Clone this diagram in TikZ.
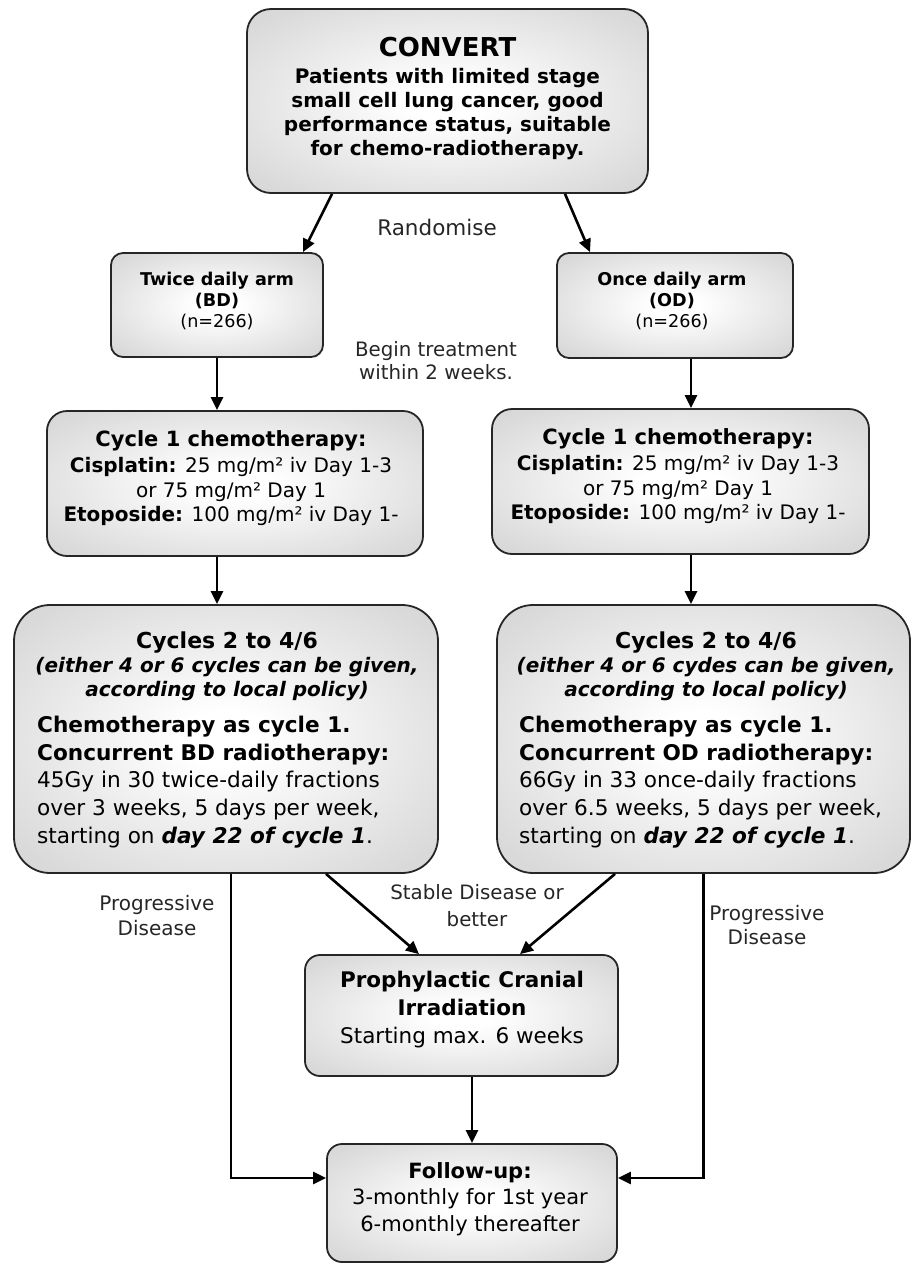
\documentclass[tikz,border=0pt]{standalone}
\usepackage{fontspec}
\setmainfont{DejaVu Sans}
\usetikzlibrary{arrows.meta,calc}
\pgfdeclareradialshading{boxshade}{\pgfpoint{0bp}{0bp}}{color(0bp)=(white); color(5bp)=(white); color(32bp)=(black!15); color(50bp)=(black!18)}
\tikzset{
  box/.style={draw=black!85, line width=1.8pt, shading=boxshade, inner sep=0pt},
  txt/.style={align=center, inner sep=0pt, text=black},
  conn/.style={line width=2.6pt, draw=black, -{Triangle[length=13pt,width=12pt]}},
  lbl/.style={align=center, inner sep=0pt, text=black!85, font=\fontsize{20}{25}\selectfont},
}
\begin{document}
\begin{tikzpicture}[x=1pt,y=-1pt]
\useasboundingbox (0,0) rectangle (912,1266);
% boxes
\node[box, minimum width=401pt, minimum height=184pt, rounded corners=24pt] (top) at (447.5,101) {};
\node[box, minimum width=212pt, minimum height=104pt, rounded corners=12pt] (twice) at (217,305) {};
\node[box, minimum width=236pt, minimum height=105pt, rounded corners=12pt] (once) at (675,305.5) {};
\node[box, minimum width=376pt, minimum height=145pt, rounded corners=20pt] (cyc1L) at (235,483.5) {};
\node[box, minimum width=377pt, minimum height=145pt, rounded corners=20pt] (cyc1R) at (680.5,481.5) {};
\node[box, minimum width=424pt, minimum height=268pt, rounded corners=36pt] (cycL) at (226,739) {};
\node[box, minimum width=413pt, minimum height=268pt, rounded corners=36pt] (cycR) at (703.5,739) {};
\node[box, minimum width=313pt, minimum height=121pt, rounded corners=15pt] (pci) at (461.5,1015.5) {};
\node[box, minimum width=290pt, minimum height=118pt, rounded corners=15pt] (fu) at (472,1203) {};
% texts in boxes
\node[txt, font=\bfseries\fontsize{20}{24}\selectfont] (toptxt) at (447.5,99)
  {{\fontsize{26}{26}\selectfont CONVERT}\\[3pt] Patients with limited stage\\ small cell lung cancer, good\\ performance status, suitable\\ for chemo-radiotherapy.};
\node[txt, font=\fontsize{17.6}{21}\selectfont] (twicetxt) at (217,301)
  {\textbf{Twice daily arm}\\ \textbf{(BD)}\\ (n=266)};
\node[txt, font=\fontsize{17.6}{21}\selectfont] (oncetxt) at (672,301)
  {\textbf{Once daily arm}\\ \textbf{(OD)}\\ (n=266)};
\node[txt, font=\fontsize{20}{24.5}\selectfont] (cyc1Ltxt) at (231,478)
  {{\bfseries\fontsize{21}{24}\selectfont Cycle 1 chemotherapy:}\\[2pt] \textbf{Cisplatin:} 25 mg/m² iv Day 1-3\\ or 75 mg/m² Day 1\\ \textbf{Etoposide:} 100 mg/m² iv Day 1-};
\node[txt, font=\fontsize{20}{24.5}\selectfont] (cyc1Rtxt) at (678,476)
  {{\bfseries\fontsize{21}{24}\selectfont Cycle 1 chemotherapy:}\\[2pt] \textbf{Cisplatin:} 25 mg/m² iv Day 1-3\\ or 75 mg/m² Day 1\\ \textbf{Etoposide:} 100 mg/m² iv Day 1-};
\node[txt, font=\bfseries\fontsize{20}{24}\selectfont] (cycLhead) at (227,666)
  {{\fontsize{22}{24}\selectfont Cycles 2 to 4/6}\\ \textit{(either 4 or 6 cycles can be given,}\\ \textit{according to local policy)}};
\node[txt, align=left, anchor=west, font=\fontsize{21.6}{27.8}\selectfont] (cycLbody) at (37,782)
  {\textbf{Chemotherapy as cycle 1.}\\ \textbf{Concurrent BD radiotherapy:}\\ 45Gy in 30 twice-daily fractions\\ over 3 weeks, 5 days per week,\\ starting on \textbf{\textit{day 22 of cycle 1}}.};
\node[txt, font=\bfseries\fontsize{20}{24}\selectfont] (cycRhead) at (706,666)
  {{\fontsize{22}{24}\selectfont Cycles 2 to 4/6}\\ \textit{(either 4 or 6 cydes can be given,}\\ \textit{according to local policy)}};
\node[txt, align=left, anchor=west, font=\fontsize{21.6}{27.8}\selectfont] (cycRbody) at (519,782)
  {\textbf{Chemotherapy as cycle 1.}\\ \textbf{Concurrent OD radiotherapy:}\\ 66Gy in 33 once-daily fractions\\ over 6.5 weeks, 5 days per week,\\ starting on \textbf{\textit{day 22 of cycle 1}}.};
\node[txt, font=\fontsize{21.5}{28}\selectfont] (pcitxt) at (462,1010)
  {\textbf{Prophylactic Cranial}\\ \textbf{Irradiation}\\ Starting max. 6 weeks};
\node[txt, font=\fontsize{21}{26.5}\selectfont] (futxt) at (470,1199)
  {\textbf{Follow-up:}\\ 3-monthly for 1st year\\ 6-monthly thereafter};
% free labels
\node[lbl, font=\fontsize{21.5}{25}\selectfont] (rand) at (437,227) {Randomise};
\node[lbl, font=\fontsize{19.8}{23}\selectfont] (begin) at (436,361) {Begin treatment\\ within 2 weeks.};
\node[lbl] (progL) at (157,916) {Progressive\\ Disease};
\node[lbl, font=\fontsize{20}{24}\selectfont] (progR) at (767,925) {Progressive\\ Disease};
\node[lbl, font=\fontsize{19.8}{27}\selectfont] (stable) at (477,906) {Stable Disease or\\ better};
% connectors
\coordinate (rx) at (691,0);
\coordinate (lx) at (231,0);
\draw[conn] ($(top.south)+(-115.5,0)$) -- ($(twice.north)+(86,0)$);
\draw[conn] ($(top.south)+(117.5,0)$) -- ($(once.north)+(-85,0)$);
\draw[conn] (twice.south) -- (twice.south |- cyc1L.north);
\draw[conn] (cyc1L.south -| twice.south) -- (cycL.north -| twice.south);
\draw[conn] (once.south -| rx) -- (cyc1R.north -| rx);
\draw[conn] (cyc1R.south -| rx) -- (cycR.north -| rx);
\draw[conn] ($(cycL.south)+(100,0)$) -- ($(pci.north)+(-42.5,0)$);
\draw[conn] ($(cycR.south)+(-88.5,0)$) -- ($(pci.north)+(58.5,0)$);
\draw[conn] (pci.south -| fu.north) -- (fu.north);
\draw[conn] (cycL.south -| lx) |- ($(fu.west)+(0,-25)$);
\draw[conn] (cycR.south) |- ($(fu.east)+(0,-25)$);
\end{tikzpicture}
\end{document}
